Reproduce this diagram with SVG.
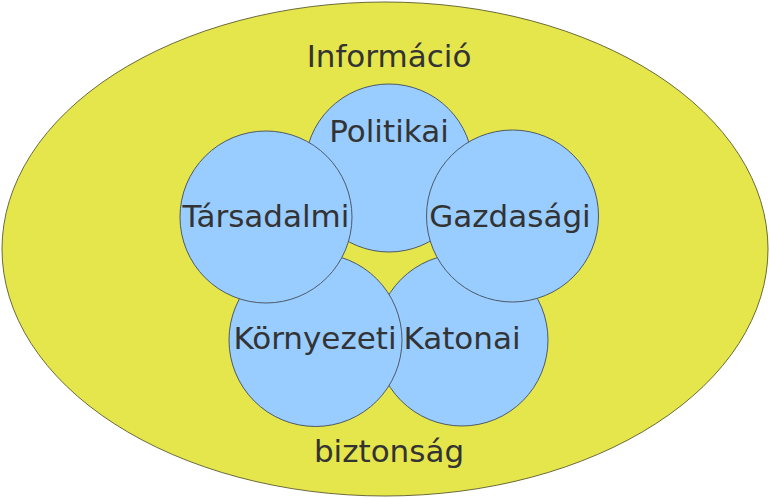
<svg xmlns="http://www.w3.org/2000/svg" width="770" height="498" viewBox="0 0 770 498">
<style>
.c{fill:#99ccff;stroke:#4d5a66;stroke-width:1}
.t{font-family:"DejaVu Sans",sans-serif;font-size:31px;fill:#333333;text-anchor:middle}
</style>
<rect width="770" height="498" fill="#ffffff"/>
<g id="outer">
<ellipse cx="385" cy="249" rx="383" ry="247" fill="#e5e54c" stroke="#6b6b3a" stroke-width="1"/>
<text class="t" x="389" y="67">Információ</text>
<text class="t" x="389" y="462">biztonság</text>
</g>
<g id="politikai"><circle class="c" cx="389" cy="168" r="84"/><text class="t" x="389" y="142">Politikai</text></g>
<g id="katonai"><circle class="c" cx="462" cy="340" r="86"/><text class="t" x="462" y="349">Katonai</text></g>
<g id="kornyezeti"><circle class="c" cx="315.5" cy="340" r="86.5"/><text class="t" x="315" y="349">Környezeti</text></g>
<g id="tarsadalmi"><circle class="c" cx="266" cy="217" r="86"/><text class="t" x="266" y="227">Társadalmi</text></g>
<g id="gazdasagi"><circle class="c" cx="512.5" cy="216" r="86"/><text class="t" x="510" y="227">Gazdasági</text></g>
<g id="connectors"/>
</svg>
